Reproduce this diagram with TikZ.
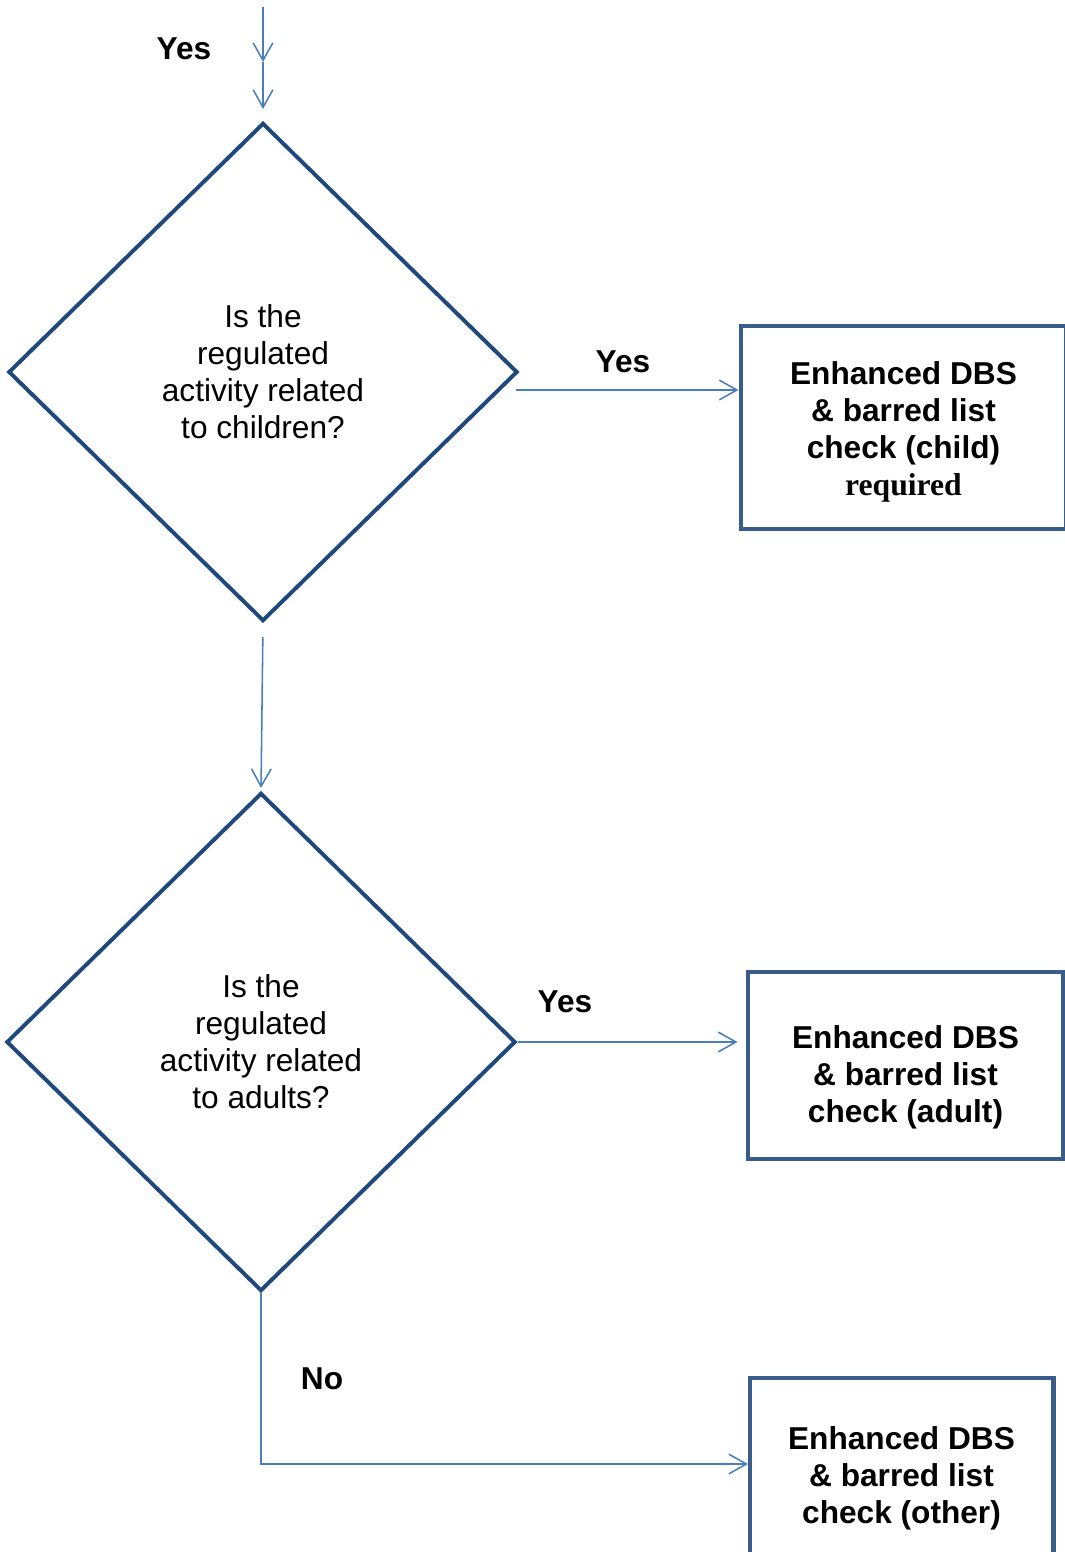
\documentclass[tikz,border=0pt]{standalone}
\usepackage{fontspec}
\setmainfont{Liberation Sans}
\newfontfamily\reqfont{Liberation Serif}
\usetikzlibrary{shapes.geometric,arrows.meta}
\definecolor{qblue}{HTML}{1F497D}
\definecolor{bblue}{HTML}{385D8A}
\definecolor{ablue}{HTML}{4A7EBB}

\begin{document}
\begin{tikzpicture}[x=0.025cm, y=-0.025cm,
  every node/.style={font=\fontsize{22.5pt}{26.3pt}\selectfont, align=center, inner sep=0pt},
  question/.style={draw=qblue, line width=2.8pt, diamond, minimum width=12.725cm, minimum height=12.45cm},
  checkbox/.style={draw=bblue, line width=3.5pt, rectangle, font=\fontsize{22.5pt}{26.3pt}\selectfont\bfseries},
  answer/.style={font=\fontsize{22.5pt}{26.3pt}\selectfont\bfseries},
  flow/.style={draw=ablue, line width=1.1pt, -{Straight Barb[length=12.5pt,width=14pt]}}]
\useasboundingbox (0,0) rectangle (1065,1552);
\node[question] (Q1) at (263,372) {Is the\\regulated\\activity related\\to children?};
\node[question] (Q2) at (261,1042) {Is the\\regulated\\activity related\\to adults?};
\node[checkbox, minimum width=8.125cm, minimum height=5.075cm, text height=3.55cm] (B1) at (903.5,427.5) {Enhanced DBS\\\& barred list\\check (child)\\{\reqfont\bfseries required}};
\node[checkbox, minimum width=7.875cm, minimum height=4.675cm, text height=3.03cm] (B2) at (905.5,1065.5) {Enhanced DBS\\\& barred list\\check (adult)};
\node[checkbox, minimum width=7.575cm, minimum height=4.85cm, text height=2.58cm] (B3) at (901.5,1475) {Enhanced DBS\\\& barred list\\check (other)};
\node[answer] (A0) at (184,49) {Yes};
\node[answer] (A1) at (623,362) {Yes};
\node[answer] (A2) at (565,1002) {Yes};
\node[answer] (A3) at (322,1379) {No};
\coordinate (S0) at (263,7);
\coordinate (S1) at (263,62);
\coordinate (Y1) at (516,390);
\coordinate (N1) at (748,1464);
\draw[flow] (S0) -- (S1);
\draw[flow, shorten >=0.3cm] (S1) -- (Q1.north);
\draw[flow] (Y1) -- (Y1 -| B1.west);
\draw[flow, shorten <=0.35cm, shorten >=0.075cm] (Q1.south) -- (Q2.north);
\draw[flow, shorten >=0.2cm] (Q2.east) -- (Q2.east -| B2.west);
\draw[flow] (Q2.south) |- (N1);
\end{tikzpicture}
\end{document}
